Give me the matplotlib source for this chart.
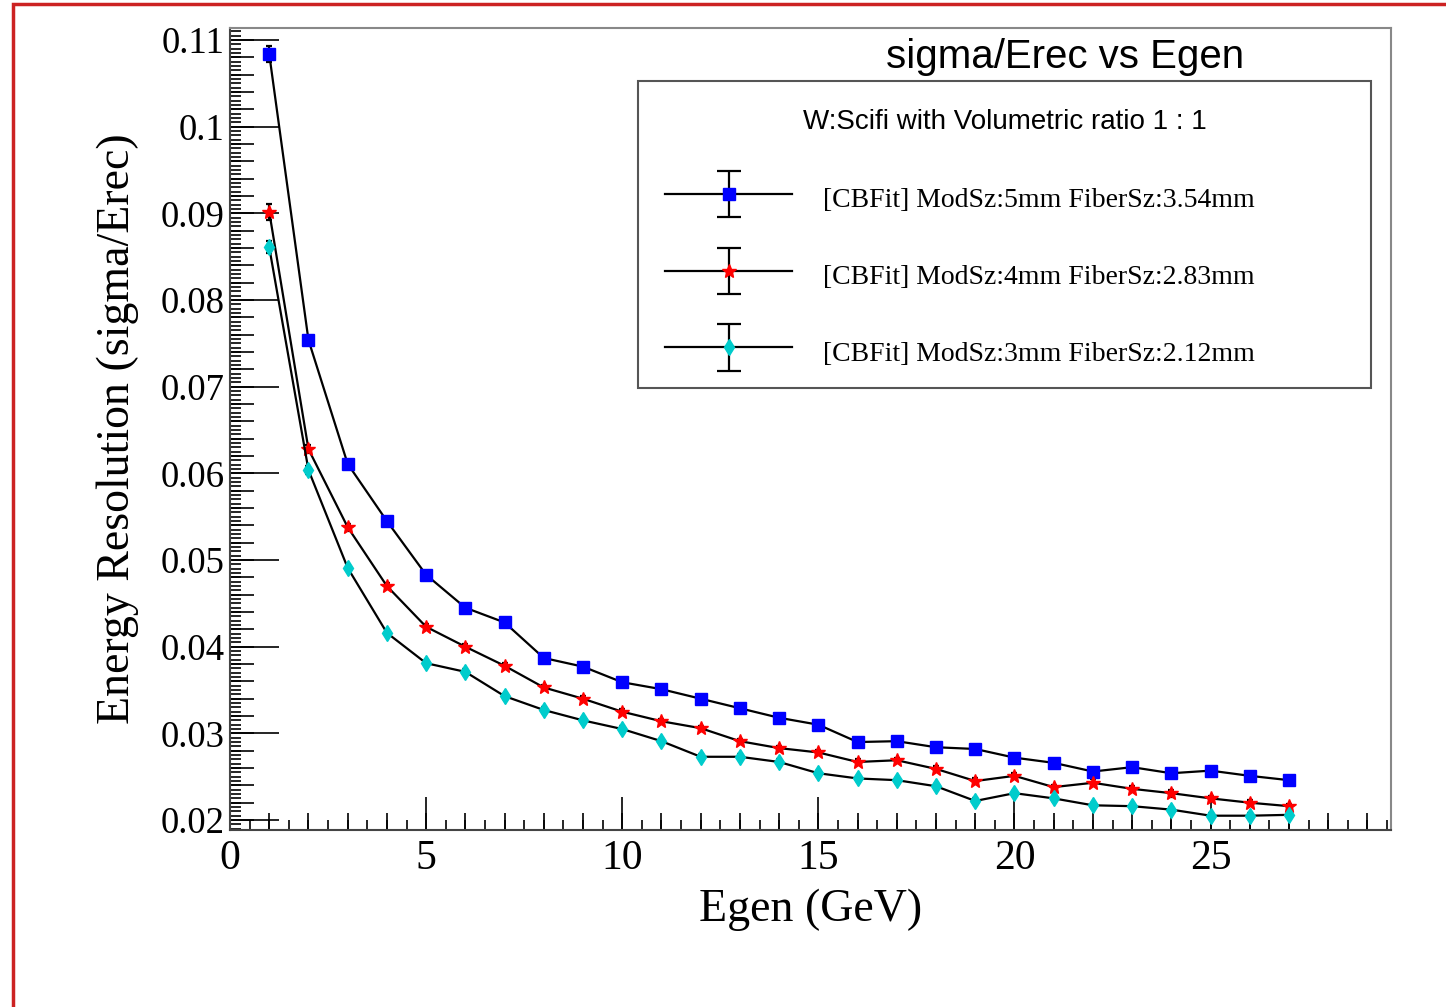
import matplotlib
matplotlib.use('Agg')
import matplotlib.pyplot as plt
import matplotlib.patches as patches
from matplotlib.lines import Line2D
from matplotlib.legend_handler import HandlerErrorbar
from matplotlib.ticker import MultipleLocator, NullFormatter, FuncFormatter

egen = list(range(1, 28))

res_5mm = [0.1084, 0.0754, 0.0611, 0.0545, 0.0483, 0.0445, 0.0428, 0.0387, 0.0377,
           0.0359, 0.0351, 0.0340, 0.0329, 0.0318, 0.0310, 0.0290, 0.0291, 0.0284,
           0.0282, 0.0272, 0.0266, 0.0256, 0.0261, 0.0254, 0.0257, 0.0251, 0.0246]
err_5mm = [0.0009, 0.0005, 0.0004, 0.0003, 0.0003, 0.0003, 0.0003, 0.0003, 0.0003,
           0.0003, 0.0003, 0.0003, 0.0003, 0.0003, 0.0003, 0.0003, 0.0003, 0.0003,
           0.0003, 0.0003, 0.0003, 0.0003, 0.0003, 0.0003, 0.0003, 0.0003, 0.0003]

res_4mm = [0.0902, 0.0628, 0.0538, 0.0470, 0.0423, 0.0400, 0.0378, 0.0353, 0.0340,
           0.0325, 0.0314, 0.0306, 0.0291, 0.0283, 0.0278, 0.0267, 0.0269, 0.0259,
           0.0245, 0.0251, 0.0238, 0.0243, 0.0236, 0.0231, 0.0225, 0.0220, 0.0216]
err_4mm = [0.0009, 0.0005, 0.0004, 0.0003, 0.0003, 0.0003, 0.0003, 0.0003, 0.0003,
           0.0003, 0.0003, 0.0003, 0.0003, 0.0003, 0.0003, 0.0003, 0.0003, 0.0003,
           0.0003, 0.0003, 0.0003, 0.0004, 0.0003, 0.0004, 0.0003, 0.0003, 0.0003]

res_3mm = [0.0861, 0.0604, 0.0491, 0.0416, 0.0381, 0.0371, 0.0343, 0.0327, 0.0315,
           0.0305, 0.0291, 0.0273, 0.0273, 0.0267, 0.0254, 0.0248, 0.0246, 0.0239,
           0.0222, 0.0231, 0.0225, 0.0217, 0.0216, 0.0212, 0.0205, 0.0205, 0.0206]
err_3mm = [0.0007, 0.0005, 0.0003, 0.0003, 0.0003, 0.0003, 0.0003, 0.0003, 0.0003,
           0.0003, 0.0003, 0.0003, 0.0003, 0.0003, 0.0003, 0.0003, 0.0003, 0.0003,
           0.0003, 0.0003, 0.0003, 0.0003, 0.0003, 0.0003, 0.0003, 0.0003, 0.0003]

labels = ['[CBFit] ModSz:5mm FiberSz:3.54mm',
          '[CBFit] ModSz:4mm FiberSz:2.83mm',
          '[CBFit] ModSz:3mm FiberSz:2.12mm']

serif = 'Liberation Serif'
sans = 'Liberation Sans'


class BigCapHandler(HandlerErrorbar):
    # ROOT legend draws wide caps on the error bar, the plot itself small ones
    def create_artists(self, *args, **kwargs):
        arts = super().create_artists(*args, **kwargs)
        for a in arts:
            if isinstance(a, Line2D) and a.get_marker() == '_':
                a.set_markersize(17)
        return arts


fig = plt.figure(figsize=(14.46, 10.07), dpi=100)
ax = fig.add_axes([230 / 1446, 1 - 830 / 1007, 1161 / 1446, 802 / 1007])

styles = [(res_5mm, err_5mm, 's', '#0000ff', 9),
          (res_4mm, err_4mm, '*', '#ff0000', 10.5),
          (res_3mm, err_3mm, 'd', '#00cccc', 8)]

handles = []
for vals, errs, mk, col, ms in styles:
    h = ax.errorbar(egen, vals, yerr=errs, fmt='-', color='black', lw=1.6,
                    marker=mk, mfc=col, mec=col, ms=ms, ecolor='black',
                    elinewidth=1.6, capsize=2.5, capthick=1.6, zorder=3)
    handles.append(h)

ax.set_xlim(0, 29.6)
ax.set_ylim(0.01885, 0.1114)

ax.xaxis.set_major_locator(MultipleLocator(5))
ax.xaxis.set_minor_locator(MultipleLocator(0.5))
ax.yaxis.set_major_locator(MultipleLocator(0.01))
ax.yaxis.set_minor_locator(MultipleLocator(0.0005))
ax.tick_params(axis='x', which='major', direction='in', length=24, width=1.2,
               top=False, labelsize=30, pad=7)
ax.tick_params(axis='x', which='minor', direction='in', length=7, width=1.2, top=False)
ax.tick_params(axis='y', which='major', direction='in', length=35, width=1.2,
               right=False, labelsize=26.5, pad=4)
ax.tick_params(axis='y', which='minor', direction='in', length=8, width=1.2, right=False)
for lab in ax.get_xticklabels() + ax.get_yticklabels():
    lab.set_fontfamily(serif)
ax.yaxis.set_major_formatter(FuncFormatter(
    lambda v, p: '0.1' if abs(v - 0.1) < 1e-9 else '%.2f' % v))

# medium ticks (ROOT style)
secx = ax.secondary_xaxis('bottom')
secx.xaxis.set_major_locator(MultipleLocator(1))
secx.xaxis.set_major_formatter(NullFormatter())
secx.tick_params(direction='in', length=12, width=1.2)
secx.spines['bottom'].set_visible(False)
secy = ax.secondary_yaxis('left')
secy.yaxis.set_major_locator(MultipleLocator(0.002))
secy.yaxis.set_major_formatter(NullFormatter())
secy.tick_params(direction='in', length=17, width=1.2)
secy.spines['left'].set_visible(False)

for s in ['top', 'right']:
    ax.spines[s].set_color('#888888')
    ax.spines[s].set_linewidth(1.5)
for s in ['left', 'bottom']:
    ax.spines[s].set_color('#444444')
    ax.spines[s].set_linewidth(1.5)

ax.set_xlabel('Egen (GeV)', fontsize=33, fontfamily=serif)
ax.set_ylabel('Energy Resolution (sigma/Erec)', fontsize=33, fontfamily=serif)
ax.xaxis.set_label_coords(0.5, -0.073)
ax.yaxis.set_label_coords(-0.078, 0.5)

ax.text(0.719, 0.964, 'sigma/Erec vs Egen', transform=ax.transAxes, ha='center',
        va='center', fontsize=29, fontfamily=sans)

leg = ax.legend(handles, labels, loc='upper left', numpoints=1,
                bbox_to_anchor=(0.351, 0.551, 0.632, 0.383), mode='expand',
                prop={'family': serif, 'size': 20}, title='W:Scifi with Volumetric ratio 1 : 1',
                title_fontproperties={'family': sans, 'size': 20},
                frameon=False,
                handlelength=4.57, handletextpad=1.1, handleheight=1.6,
                labelspacing=1.48, borderpad=1.0, borderaxespad=0,
                handler_map={type(handles[0]): BigCapHandler(yerr_size=0.83)})
leg._legend_box.sep = leg._legend_box.sep + 3.3
ax.add_patch(patches.Rectangle((0.351, 0.551), 0.632, 0.383, transform=ax.transAxes,
                               fill=False, edgecolor='#555555', lw=1.5, zorder=6))

border = patches.Rectangle((13 / 1446, -0.1), 1.2, 1.1 - 4 / 1007, transform=fig.transFigure,
                           fill=False, edgecolor='#cc2222', lw=2.5, clip_on=False)
fig.patches.append(border)

fig.savefig('out.png', dpi=100, facecolor='white')
